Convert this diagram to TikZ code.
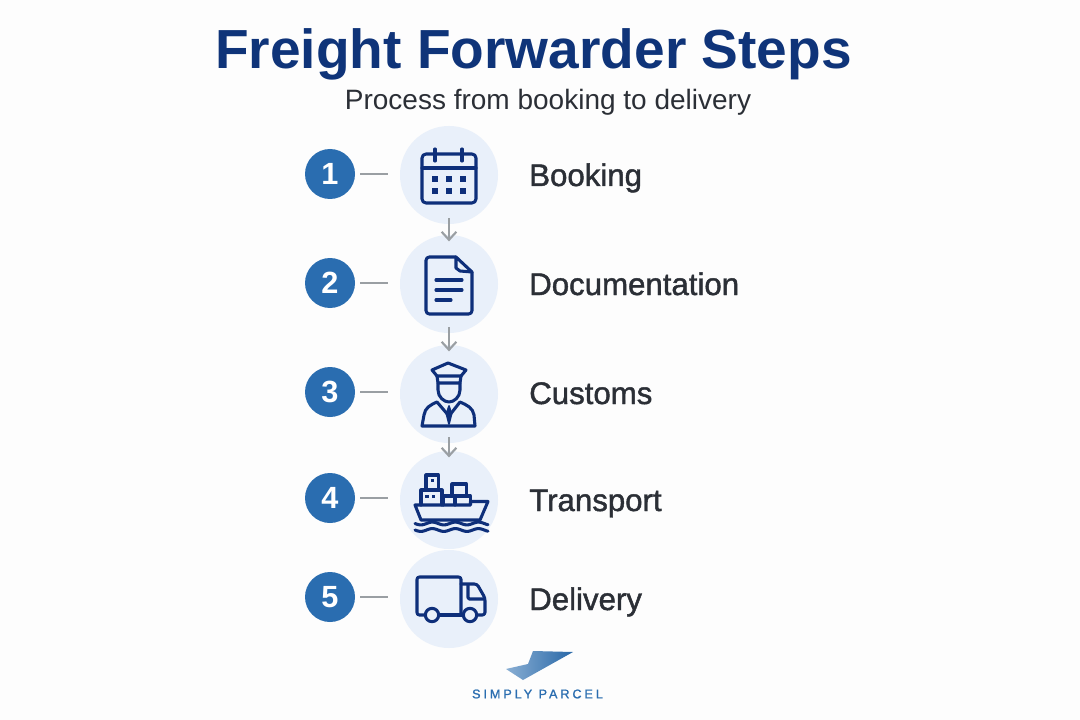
\documentclass[tikz,border=0pt]{standalone}
\usepackage{fontspec}
\usepackage{xcolor}
\usepackage{tikz}
\usetikzlibrary{arrows.meta,positioning,calc}
\setmainfont{Liberation Sans}
\newfontfamily\labelfont[FakeBold=1.4]{Liberation Sans}
\newfontfamily\spacedfont[LetterSpace=23,FakeBold=1.2]{Liberation Sans}
\definecolor{navy}{HTML}{0F3479}
\definecolor{iconblue}{HTML}{0E2F7A}
\definecolor{paleblue}{HTML}{E9F0FA}
\definecolor{badgeblue}{HTML}{2A6DB0}
\definecolor{linegrey}{HTML}{9A9FA3}
\definecolor{inkgrey}{HTML}{2B2F36}
\tikzset{
  px/.style={x=.75pt,y=-.75pt},
  stepcircle/.style={circle,fill=paleblue,minimum size=73.5pt,inner sep=0pt},
  badge/.style={circle,fill=badgeblue,minimum size=37.5pt,inner sep=0pt,text=white,
    font=\bfseries\fontsize{23}{23}\selectfont},
  steplabel/.style={anchor=base west,inner sep=0pt,text=inkgrey,
    font=\labelfont\fontsize{23.4}{23.4}\selectfont},
  tick/.style={draw=linegrey,line width=1.5pt,shorten <=3.8pt,shorten >=9pt},
  flow/.style={draw=linegrey,line width=1.6pt,shorten <=-4.4pt,shorten >=-5pt,
    -{Straight Barb[length=6pt,width=11pt,line width=1.6pt]}},
  icon/.style={draw=iconblue,line width=2.3pt,line join=round,line cap=round},
}
\begin{document}
\begin{tikzpicture}[px]
  \useasboundingbox (0,0) rectangle (1080,720);
  \fill[white!99.3!black] (0,0) rectangle (1080,720);
  \node[anchor=base,text=navy,font=\bfseries\fontsize{41.3}{41.3}\selectfont] (title) at (533.5,69) {Freight Forwarder Steps};
  \node[anchor=base,text=inkgrey,font=\fontsize{21}{21}\selectfont] (subtitle) at (548,110) {Process from booking to delivery};
%
  \node[stepcircle] (booking) at (449,175) {};
  \node[stepcircle] (documentation) at (449,284) {};
  \node[stepcircle] (customs) at (449,394) {};
  \node[stepcircle] (transport) at (449,500) {};
  \node[stepcircle] (delivery) at (449,599) {};
  \node[badge] (num1) at (330,174) {1};
  \node[badge] (num2) at (330,283) {2};
  \node[badge] (num3) at (330,392) {3};
  \node[badge] (num4) at (330,498) {4};
  \node[badge] (num5) at (330,597) {5};
  \node[steplabel] (booking label) at (529,186) {Booking};
  \node[steplabel] (documentation label) at (529,295) {Documentation};
  \node[steplabel] (customs label) at (529,404) {Customs};
  \node[steplabel] (transport label) at (529,511) {Transport};
  \node[steplabel] (delivery label) at (529,610) {Delivery};
%
  \draw[tick] (num1.east) -- (num1.east-|booking.west);
  \draw[tick] (num2.east) -- (num2.east-|documentation.west);
  \draw[tick] (num3.east) -- (num3.east-|customs.west);
  \draw[tick] (num4.east) -- (num4.east-|transport.west);
  \draw[tick] (num5.east) -- (num5.east-|delivery.west);
  \draw[flow] (booking) -- (documentation);
  \draw[flow] (documentation) -- (customs);
  \draw[flow] (customs) -- (transport);
%
  % calendar
  \draw[icon,rounded corners=3pt] (422,154) rectangle (476,203);
  \draw[icon] (422,168) -- (476,168);
  \draw[icon] (435,149) -- (435,161) (462,149) -- (462,161);
  \foreach \cx in {435,449,463} {
    \foreach \cy in {179,191} {
      \fill[iconblue] (\cx-3,\cy-3) rectangle (\cx+3,\cy+3);
    }
  }
  % document
  \draw[icon,rounded corners=2.5pt] (456,257) -- (426,257) -- (426,314) -- (472,314) -- (472,272);
  \draw[icon] (456,257) -- (472,272) -- (460,271) -- (456,268) -- cycle;
  \draw[icon] (436,280) -- (462,280) (436,290) -- (462,290) (436,300) -- (451,300);
  % officer
  \draw[icon] (432,370) -- (448,363) -- (466,370) -- (461,376) -- (437,376) -- cycle;
  \draw[icon] (437,376) -- (438,383) -- (460,383) -- (461,376);
  \draw[icon] (438,383) -- (438,390) .. controls (438,397) and (444,402) .. (449,402)
    .. controls (454,402) and (460,397) .. (460,390) -- (460,383);
  \draw[icon] (422,426) -- (475,426) -- (474,415) .. controls (473,408) and (467,405) .. (460,402)
    -- (449,416) -- (437,402) .. controls (430,405) and (425,408) .. (424,415) -- cycle;
  \draw[icon,line width=1.3pt,fill=iconblue] (449,406) -- (451.5,414) -- (449,424) -- (446.5,414) -- cycle;
  % ship
  \draw[icon] (415,505) -- (470.5,505) -- (470.5,501.5) -- (488,501.5) -- (480,520) -- (421,520) -- cycle;
  \draw[icon] (421,505) -- (421,490) -- (442,490) -- (442,505);
  \draw[icon] (426,490) -- (426,475) -- (438.5,475) -- (438.5,490);
  \draw[icon] (443.5,505) -- (443.5,496) -- (470.5,496) -- (470.5,502) (455,496) -- (455,505);
  \draw[icon] (452,496) -- (452,484) -- (466.5,484) -- (466.5,496);
  \fill[iconblue] (430.8,479) rectangle (434.2,482.4);
  \fill[iconblue] (425.3,495) rectangle (428.7,498.4);
  \fill[iconblue] (432,495) rectangle (435.4,498.4);
  \draw[icon] plot[domain=415:488,samples=70,smooth] (\x,{523.5+1.4*sin((\x-415)*15.6)});
  \draw[icon] plot[domain=415:488,samples=70,smooth] (\x,{530+1.4*sin((\x-415)*15.6)});
  % truck
  \draw[icon,rounded corners=1.8pt] (425,615) -- (417,615) -- (417,577) -- (461,577) -- (461,615);
  \draw[icon] (438,615) -- (464,615);
  \draw[icon,rounded corners=2pt] (461,584) -- (477,584) -- (485,598) -- (485,615) -- (477,615);
  \draw[icon,rounded corners=1pt] (468,585) -- (468,599) -- (484,599);
  \draw[icon,fill=paleblue] (432,615) circle (5pt);
  \draw[icon,fill=paleblue] (470,615) circle (5pt);
  % logo
  \shade[left color=badgeblue!55,right color=badgeblue!95!black]
    (506,669) -- (528,664) -- (533,651) -- (573,652) -- (523,680) -- cycle;
  \node[text=badgeblue,font=\spacedfont\fontsize{9.5}{10}\selectfont] (logo) at (537.5,694) {SIMPLY PARCEL};
\end{tikzpicture}
\end{document}
